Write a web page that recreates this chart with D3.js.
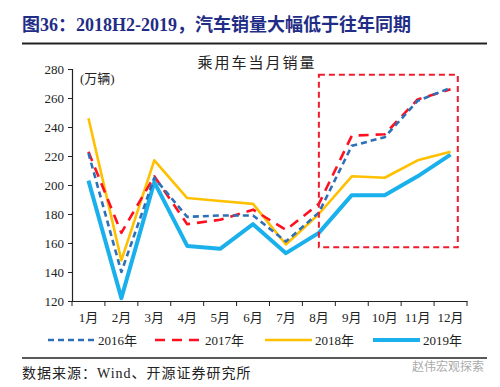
<!DOCTYPE html>
<html>
<head>
<meta charset="utf-8">
<script src="https://cdn.jsdelivr.net/npm/d3@7"></script>
<style>
  body { margin: 0; background: #fff; }
  svg { display: block; }
  text { font-family: "Liberation Serif", "Times New Roman", "Noto Sans CJK SC", serif; }
</style>
</head>
<body>
<div id="chart"></div>
<script>
// chart data
const months = ["1月", "2月", "3月", "4月", "5月", "6月", "7月", "8月", "9月", "10月", "11月", "12月"];
const years = ["2016年", "2017年", "2018年", "2019年"];
const sales2016 = [222, 140, 205, 178, 179, 179, 161, 181, 227, 233, 258, 267];
const sales2017 = [223, 167, 206, 173, 176, 183, 169, 187, 234, 235, 259, 266];
const sales2018 = [246, 148, 217, 191, 189, 187, 159, 180, 206, 205, 217, 223];
const sales2019 = [203, 122, 202, 158, 156, 173, 153, 167, 193, 193, 206, 221];
const yTicks = [120, 140, 160, 180, 200, 220, 240, 260, 280];
// highlighted area: Aug..Dec, sales 157..276
const boxRange = [157, 276];

const W = 500, H = 387;
const margin = {top: 69, right: 33, bottom: 86, left: 72};
const width = W - margin.left - margin.right;
const height = H - margin.top - margin.bottom;

const svg = d3.select("#chart").append("svg")
  .attr("width", W).attr("height", H);

// header
svg.append("text")
  .attr("x", 22).attr("y", 31)
  .attr("font-size", 18).attr("font-weight", "bold")
  .attr("fill", "#1f2d86")
  .text("图36：2018H2-2019，汽车销量大幅低于往年同期");
svg.append("line")
  .attr("x1", 22).attr("x2", 487).attr("y1", 43.5).attr("y2", 43.5)
  .attr("stroke", "#222").attr("stroke-width", 2);

const x = d3.scaleBand().domain(months).range([0, width]);
const y = d3.scaleLinear().domain([120, 280]).range([height, 0]);

const plot = svg.append("g")
  .attr("transform", `translate(${margin.left},${margin.top})`);

// axes
const yAxis = plot.append("g")
  .call(d3.axisLeft(y).tickValues(yTicks).tickSize(4).tickPadding(4));
yAxis.selectAll("text").attr("font-size", 13).attr("fill", "#222");

const xAxis = plot.append("g")
  .attr("transform", `translate(0,${height})`)
  .call(d3.axisBottom(x).tickSize(0).tickPadding(12));
xAxis.selectAll("text").attr("font-size", 13).attr("fill", "#222");
// ticks between categories
xAxis.selectAll(".bnd").data(d3.range(months.length + 1)).enter().append("line")
  .attr("x1", i => i * x.step()).attr("x2", i => i * x.step())
  .attr("y1", 0).attr("y2", 5)
  .attr("stroke", "#222");
svg.selectAll(".domain").attr("stroke", "#222").attr("stroke-width", 1.2);
svg.selectAll(".tick line").attr("stroke", "#222");

// titles
plot.append("text")
  .attr("x", 185).attr("y", -1)
  .attr("text-anchor", "middle")
  .attr("font-size", 15).attr("letter-spacing", 2).attr("fill", "#222")
  .text("乘用车当月销量");
plot.append("text")
  .attr("x", 8).attr("y", 14)
  .attr("font-size", 13).attr("fill", "#222")
  .text("(万辆)");

const series = [
  {name: years[0], values: sales2016, color: "#2e70b8", width: 2.6, dash: "6,4"},
  {name: years[1], values: sales2017, color: "#ff1020", width: 2.6, dash: "10,7"},
  {name: years[2], values: sales2018, color: "#ffc000", width: 2.6, dash: null},
  {name: years[3], values: sales2019, color: "#1ab0ec", width: 4, dash: null}
];

const line = d3.line()
  .x((d, i) => x(months[i]) + x.bandwidth() / 2)
  .y(d => y(d));

// draw order: 2019, 2018, 2017, 2016
[3, 2, 1, 0].forEach(k => {
  const s = series[k];
  plot.append("path")
    .datum(s.values)
    .attr("fill", "none")
    .attr("stroke", s.color)
    .attr("stroke-width", s.width)
    .attr("stroke-dasharray", s.dash)
    .attr("stroke-linejoin", "round")
    .attr("d", line);
});

// red dashed highlight box
const bx0 = x("8月") + x.bandwidth() / 2;
const bx1 = x("12月") + x.bandwidth() * 0.72;
plot.append("rect")
  .attr("x", bx0).attr("y", y(boxRange[1]))
  .attr("width", bx1 - bx0).attr("height", y(boxRange[0]) - y(boxRange[1]))
  .attr("fill", "none").attr("stroke", "#ee1c2e")
  .attr("stroke-width", 2).attr("stroke-dasharray", "6,4");

// legend
const legendX = [48, 155, 265, 373];
const legend = svg.append("g").attr("transform", "translate(0,340)");
series.forEach((s, i) => {
  legend.append("line")
    .attr("x1", legendX[i]).attr("x2", legendX[i] + 47)
    .attr("y1", 0).attr("y2", 0)
    .attr("stroke", s.color).attr("stroke-width", s.width)
    .attr("stroke-dasharray", s.dash);
  legend.append("text")
    .attr("x", legendX[i] + 50).attr("y", 5)
    .attr("font-size", 13).attr("fill", "#222")
    .text(s.name);
});

// footer
svg.append("line")
  .attr("x1", 22).attr("x2", 487).attr("y1", 358).attr("y2", 358)
  .attr("stroke", "#222").attr("stroke-width", 1.5);
svg.append("text")
  .attr("x", 22).attr("y", 378)
  .attr("font-size", 14).attr("letter-spacing", 1).attr("fill", "#222")
  .text("数据来源：Wind、开源证券研究所");
svg.append("text")
  .attr("x", 484).attr("y", 371)
  .attr("text-anchor", "end")
  .attr("font-size", 12).attr("fill", "#aaa")
  .attr("font-family", "Noto Sans CJK SC")
  .text("赵伟宏观探索");
</script>
</body>
</html>
